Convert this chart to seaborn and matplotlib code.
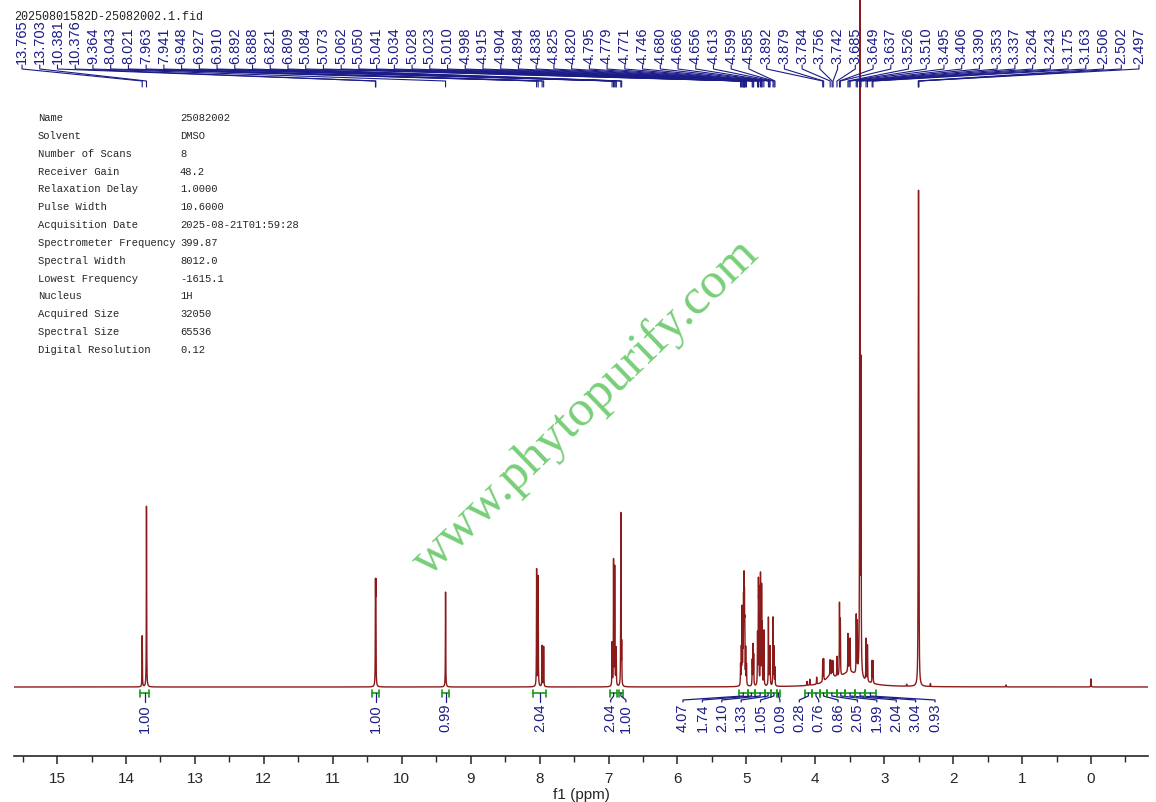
import numpy as np
import seaborn as sns
import matplotlib.pyplot as plt
import pandas as pd

# Peak list (ppm) as printed on top of the spectrum, with heights
peak_shifts = [13.765, 13.703, 10.381, 10.376, 9.364, 8.043, 8.021, 7.963, 7.941,
               6.948, 6.927, 6.910, 6.892, 6.888, 6.821, 6.809,
               5.084, 5.073, 5.062, 5.050, 5.041, 5.034, 5.028, 5.023, 5.010, 4.998,
               4.915, 4.904, 4.894, 4.838, 4.825, 4.820, 4.795, 4.779, 4.771, 4.746,
               4.680, 4.666, 4.656, 4.613, 4.599, 4.585,
               3.892, 3.879, 3.784, 3.756, 3.742, 3.685, 3.649, 3.637,
               3.526, 3.510, 3.495, 3.406, 3.390, 3.353, 3.337,
               3.264, 3.243, 3.175, 3.163, 2.506, 2.502, 2.497]
peak_heights = [51, 181, 90, 90, 95, 117, 110, 41, 40,
                43, 125, 118, 30, 25, 173, 40,
                20, 35, 75, 55, 75, 92, 72, 48, 35, 20,
                25, 40, 30, 50, 90, 80, 110, 95, 55, 55,
                68, 30, 38, 68, 38, 18,
                22, 22, 15, 14, 14, 20, 72, 55,
                38, 25, 33, 58, 50, 1000, 300,
                42, 36, 22, 22, 200, 400, 200]

# small unlabelled signals and the broad hump under the sugar region
extra_shifts = [0.000, 1.232, 2.674, 2.330, 4.120, 4.080, 3.980]
extra_heights = [8, 2, 2, 3, 4, 6, 7]
broad_shifts = [3.50, 3.78]
broad_heights = [14, 8]
broad_widths = [0.18, 0.08]

# integrals
int_left = [13.80, 10.43, 9.41, 8.09, 6.98, 6.85,
            5.11, 4.98, 4.87, 4.73, 4.64, 4.56,
            4.15, 4.05, 3.93, 3.83, 3.69, 3.57, 3.42, 3.28]
int_right = [13.66, 10.33, 9.31, 7.90, 6.87, 6.79,
             4.98, 4.87, 4.73, 4.64, 4.56, 4.51,
             4.05, 3.93, 3.83, 3.69, 3.57, 3.42, 3.28, 3.12]
int_values = ["1.00", "1.00", "0.99", "2.04", "2.04", "1.00",
              "4.07", "1.74", "2.10", "1.33", "1.05", "0.09",
              "0.28", "0.76", "0.86", "2.05", "1.99", "2.04", "3.04", "0.93"]

param_names = ["Name", "Solvent", "Number of Scans", "Receiver Gain", "Relaxation Delay",
               "Pulse Width", "Acquisition Date", "Spectrometer Frequency", "Spectral Width",
               "Lowest Frequency", "Nucleus", "Acquired Size", "Spectral Size",
               "Digital Resolution"]
param_values = ["25082002", "DMSO", "8", "48.2", "1.0000", "10.6000", "2025-08-21T01:59:28",
                "399.87", "8012.0", "-1615.1", "1H", "32050", "65536", "0.12"]

title = "20250801582D-25082002.1.fid"

# --- build the trace from the peak list (Lorentzian lines) ---
ppm = np.linspace(15.625, -0.827, 60000)
lw = 0.0025
inten = np.zeros_like(ppm)
for s, h in zip(peak_shifts + extra_shifts, peak_heights + extra_heights):
    inten += h / (1 + ((ppm - s) / lw) ** 2)
for s, h, w in zip(broad_shifts, broad_heights, broad_widths):
    inten += h / (1 + ((ppm - s) / w) ** 2)
df = pd.DataFrame({"ppm": ppm, "intensity": inten})

sns.set_style("ticks")
plt.rcParams['font.family'] = ['Liberation Sans', 'DejaVu Sans']

W, H = 1156, 803
fig = plt.figure(figsize=(W / 100, H / 100), dpi=100)
ax = fig.add_axes([14 / W, 1 - 757 / H, (1148 - 14) / W, 757 / H])

spec_col = "#8b1a1a"
blue = "#1c1c88"
green = "#1a9a1a"


def px2ppm(px):
    return (1091 - px) / 68.93


def py2y(py):
    return 688 - py


sns.lineplot(data=df, x="ppm", y="intensity", ax=ax, color=spec_col,
             linewidth=1.0, estimator=None, sort=False)

ax.set_xlim(15.625, -0.827)
ax.set_ylim(-69, 688)
for side in ["left", "top", "right"]:
    ax.spines[side].set_visible(False)
ax.spines["bottom"].set_linewidth(1.2)
ax.set_yticks([])
ax.set_ylabel("")
ax.set_xticks(range(0, 16))
ax.set_xticks(np.arange(-0.5, 15.6, 1.0), minor=True)
ax.tick_params(axis="x", which="major", length=6, width=1.1, labelsize=11, pad=5)
ax.tick_params(axis="x", which="minor", length=4, width=1.0)
ax.set_xlabel("f1 (ppm)", fontsize=11, labelpad=1)

# --- peak labels on top ---
label_px = np.linspace(22, 1139, len(peak_shifts))
for lx, s in zip(label_px, peak_shifts):
    ax.text(px2ppm(lx), py2y(64), f"{s:.3f}", rotation=90, ha="center", va="bottom",
            fontsize=10.5, color=blue)
    ax.plot([px2ppm(lx), px2ppm(lx), s, s],
            [py2y(66), py2y(70), py2y(82), py2y(88)],
            color=blue, linewidth=0.8, clip_on=False)

# --- integrals ---
nudge = [0, 0, 0, 0, -3, 5]
fan_px = np.linspace(683, 935, len(int_values) - 6)
for i, (l, r, v) in enumerate(zip(int_left, int_right, int_values)):
    yb = py2y(694)
    ax.plot([l, r], [yb, yb], color=green, linewidth=1.2)
    ax.plot([l, l], [yb - 3.5, yb + 3.5], color=green, linewidth=1.2)
    ax.plot([r, r], [yb - 3.5, yb + 3.5], color=green, linewidth=1.2)
    c = (l + r) / 2
    if i < 6:
        lx = px2ppm(1091 - 68.93 * c + nudge[i])
    else:
        lx = px2ppm(fan_px[i - 6])
    ax.plot([c, c, lx, lx], [yb, py2y(697), py2y(701), py2y(703)],
            color=blue, linewidth=0.9)
    ax.text(lx, py2y(704), v, rotation=90, ha="center", va="top",
            fontsize=10.5, color=blue)

# --- title and parameter table ---
fig.text(14 / W, 1 - 17 / H, title, fontsize=8.5, family=["Liberation Mono"],
         color="#222222", va="center", ha="left")
for k, (n, v) in enumerate(zip(param_names, param_values)):
    y = 1 - (118 + k * 17.85) / H
    fig.text(38 / W, y, n, fontsize=7.6, family=["Liberation Mono"], va="center")
    fig.text(180 / W, y, v, fontsize=7.6, family=["Liberation Mono"], va="center")

# --- watermark ---
fig.text(586 / W, 1 - 408 / H, "www.phytopurify.com", rotation=44, ha="center",
         va="center", fontsize=37, family=["Liberation Serif"], color="#78cf78")

fig.savefig("out.png", dpi=100)
